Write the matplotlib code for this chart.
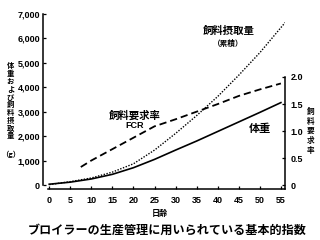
import matplotlib
matplotlib.use("Agg")
import matplotlib.pyplot as plt

plt.rcParams['font.family'] = ['Noto Sans CJK JP', 'DejaVu Sans']

# 日齢
days = [0, 5, 10, 15, 20, 25, 30, 35, 40, 45, 50, 55]
# 体重 (g)
body_weight = [45, 130, 260, 450, 720, 1060, 1440, 1810, 2200, 2590, 2980, 3380]
# 飼料摂取量（累積） (g)
feed_days = [0, 5, 10, 15, 20, 25, 30, 35, 40, 45, 50, 56]
feed_intake = [30, 150, 300, 540, 880, 1440, 2120, 2850, 3630, 4500, 5420, 6650]
# 飼料要求率 FCR
fcr_days = [7.5, 10, 15, 20, 25, 30, 35, 40, 45, 50, 55]
fcr = [0.34, 0.46, 0.67, 0.88, 1.09, 1.22, 1.36, 1.50, 1.65, 1.77, 1.88]

left_ticks = [0, 1000, 2000, 3000, 4000, 5000, 6000, 7000]
left_labels = ['0', '1,000', '2,000', '3,000', '4,000', '5,000', '6,000', '7,000']
right_ticks = [0, 0.5, 1.0, 1.5, 2.0]
right_labels = ['0', '0.5', '1.0', '1.5', '2.0']
x_ticks = [0, 5, 10, 15, 20, 25, 30, 35, 40, 45, 50, 55]

fig = plt.figure(figsize=(3.2, 2.4), dpi=100)
ax = fig.add_axes([0.134, 0.2125, 0.757, 0.7292])
ax2 = ax.twinx()

ax.plot(days, body_weight, color='black', lw=1.2)
ax.plot(feed_days, feed_intake, color='black', lw=1.0, ls=(0, (1, 1.1)))
ax2.plot(fcr_days, fcr, color='black', lw=1.3, ls=(0, (4, 2.2)))

ax.set_xlim(-1.5, 56)
ax.set_ylim(-150, 7000)
ax2.set_ylim(-0.065, 3.16)

ax.spines['top'].set_visible(False)
ax.spines['right'].set_visible(False)
ax2.spines['top'].set_visible(False)
ax2.spines['left'].set_visible(False)
ax2.spines['bottom'].set_visible(False)
ax.spines['left'].set_bounds(0, 7000)
ax.spines['bottom'].set_bounds(-0.3, 56)
ax2.spines['right'].set_bounds(-0.065, 2.0)
for s in ['left', 'bottom']:
    ax.spines[s].set_linewidth(1.1)
ax2.spines['right'].set_linewidth(1.1)

tick_font = dict(fontsize=6.5, fontweight='bold', family=['Liberation Sans', 'DejaVu Sans'])
ax.set_yticks(left_ticks)
ax.set_yticklabels(left_labels, **tick_font)
ax.set_xticks(x_ticks)
ax.set_xticklabels([str(d) for d in x_ticks], **tick_font)
ax2.set_yticks(right_ticks)
ax2.set_yticklabels(right_labels, **tick_font)
ax.tick_params(direction='in', length=2, width=0.9, pad=2)
ax.tick_params(axis='x', pad=5)
ax2.tick_params(direction='in', length=2, width=0.9, pad=4)

# 曲線のラベル
ax.text(42.6, 6300, '飼料摂取量', fontsize=7.5, fontweight='bold', ha='center', va='center')
ax.text(42.6, 5800, '（累積）', fontsize=5.5, fontweight='bold', ha='center', va='center')
ax.text(20.2, 2830, '飼料要求率', fontsize=7.5, fontweight='bold', ha='center', va='center')
ax.text(20.2, 2450, 'FCR', fontsize=6.5, fontweight='bold', ha='center', va='center',
        family=['Liberation Sans', 'DejaVu Sans'])
ax.text(50, 2330, '体重', fontsize=8, fontweight='bold', ha='center', va='center')

# 軸ラベル（縦書き）
fig.text(0.033, 0.58, '\n'.join('体重および飼料摂取量'), fontsize=5.3, fontweight='bold',
         ha='center', va='center', linespacing=1.12)
fig.text(0.033, 0.355, '（g）', fontsize=5.3, fontweight='bold', ha='center', va='center')
fig.text(0.97, 0.455, '\n'.join('飼料要求率'), fontsize=5.5, fontweight='bold',
         ha='center', va='center', linespacing=1.1)
fig.text(0.5, 0.112, '日齢', fontsize=5.8, fontweight='bold', ha='center', va='center')
fig.text(0.522, 0.04, 'ブロイラーの生産管理に用いられている基本的指数', fontsize=8.7,
         fontweight='bold', ha='center', va='center')

fig.savefig('out.png', dpi=100)
